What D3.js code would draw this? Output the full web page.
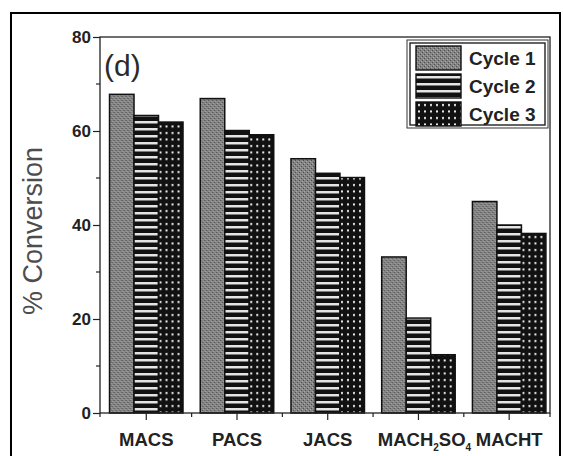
<!DOCTYPE html>
<html>
<head>
<meta charset="utf-8">
<script src="https://cdn.jsdelivr.net/npm/d3@7"></script>
<style>
  body { margin: 0; background: #fff; }
  svg { display: block; font-family: 'Liberation Sans', Arial, sans-serif; }
</style>
</head>
<body>
<script>
var categories = ['MACS', 'PACS', 'JACS', 'MACH2SO4', 'MACHT']
var series = ['Cycle 1', 'Cycle 2', 'Cycle 3']
var cycle1 = [67.8, 66.9, 54.1, 33.2, 45.0]
var cycle2 = [63.3, 60.1, 51.0, 20.2, 40.0]
var cycle3 = [61.9, 59.2, 50.1, 12.4, 38.2]
var yTicks = [0, 20, 40, 60, 80]
var yMinor = [10, 30, 50, 70]

var W = 563, H = 456
var svg = d3.select('body').append('svg').attr('width', W).attr('height', H)

// hatch patterns
var defs = svg.append('defs')
var p1 = defs.append('pattern').attr('id', 'pat1').attr('patternUnits', 'userSpaceOnUse')
  .attr('width', 4).attr('height', 4)
p1.append('rect').attr('width', 4).attr('height', 4).attr('fill', '#858585')
p1.append('rect').attr('x', 0).attr('y', 0).attr('width', 1).attr('height', 1).attr('fill', '#4e4e4e')
p1.append('rect').attr('x', 2).attr('y', 2).attr('width', 1).attr('height', 1).attr('fill', '#4e4e4e')
p1.append('rect').attr('x', 1).attr('y', 3).attr('width', 1).attr('height', 1).attr('fill', '#a8a8a8')
p1.append('rect').attr('x', 3).attr('y', 1).attr('width', 1).attr('height', 1).attr('fill', '#a8a8a8')

var p2 = defs.append('pattern').attr('id', 'pat2').attr('patternUnits', 'userSpaceOnUse')
  .attr('width', 8).attr('height', 7)
p2.append('rect').attr('width', 8).attr('height', 7).attr('fill', '#111')
p2.append('rect').attr('y', 2).attr('width', 8).attr('height', 2.5).attr('fill', '#e4e4e4')

var p3 = defs.append('pattern').attr('id', 'pat3').attr('patternUnits', 'userSpaceOnUse')
  .attr('width', 6).attr('height', 6.5)
p3.append('rect').attr('width', 6).attr('height', 6.5).attr('fill', '#111')
p3.append('rect').attr('x', 2).attr('y', 2).attr('width', 2).attr('height', 2).attr('fill', '#f2f2f2')

var fills = ['url(#pat1)', 'url(#pat2)', 'url(#pat3)']

// outer figure frame
svg.append('rect')
  .attr('x', 11).attr('y', 13).attr('width', 549).attr('height', 470)
  .style('fill', 'none').style('stroke', '#000').style('stroke-width', 2)

var pLeft = 100, pRight = 550, pTop = 37, pBottom = 413

var x = d3.scaleBand().domain(categories).range([pLeft, pRight])
  .paddingInner(0.19).paddingOuter(0.075).align(0.7)
var xs = d3.scaleBand().domain(series).range([0, x.bandwidth()])
var y = d3.scaleLinear().domain([0, 80]).range([pBottom, pTop])

var data = [cycle1, cycle2, cycle3]

var groups = svg.append('g').selectAll('g').data(categories).enter().append('g')
  .attr('transform', function(d){ return 'translate(' + x(d) + ',0)' })

groups.selectAll('rect').data(function(d, i){
    return series.map(function(s, j){ return {s: s, j: j, v: data[j][i]} })
  }).enter().append('rect')
  .attr('x', function(d){ return xs(d.s) })
  .attr('y', function(d){ return y(d.v) })
  .attr('width', xs.bandwidth())
  .attr('height', function(d){ return pBottom - y(d.v) })
  .style('fill', function(d){ return fills[d.j] })
  .style('stroke', '#111').style('stroke-width', 1.5)

// plot box
svg.append('rect').attr('x', pLeft).attr('y', pTop).attr('width', pRight - pLeft).attr('height', pBottom - pTop)
  .style('fill', 'none').style('stroke', '#222').style('stroke-width', 1.3)

// y axis
var yAxis = d3.axisLeft(y).tickValues(yTicks).tickSize(7).tickPadding(2)
var yg = svg.append('g').attr('transform', 'translate(' + pLeft + ',0)').call(yAxis)
yg.select('.domain').remove()
yg.selectAll('line').style('stroke', '#222').style('stroke-width', 1.2)
yg.selectAll('text').style('font-size', '17px').style('font-weight', 'bold').style('fill', '#222')
  .style('font-family', "'Liberation Sans', Arial, sans-serif")
svg.append('g').selectAll('line').data(yMinor).enter().append('line')
  .attr('x1', pLeft - 4).attr('x2', pLeft)
  .attr('y1', function(d){ return y(d) }).attr('y2', function(d){ return y(d) })
  .style('stroke', '#222').style('stroke-width', 1.2)

// x axis
var xAxis = d3.axisBottom(x).tickSize(7).tickFormat('')
var xg = svg.append('g').attr('transform', 'translate(0,' + pBottom + ')').call(xAxis)
xg.select('.domain').remove()
xg.selectAll('line').style('stroke', '#222').style('stroke-width', 1.2)

var step = x.step()
var minor = categories.slice(1).map(function(c){ return x(c) - (step - x.bandwidth()) / 2 })
minor = [pLeft].concat(minor).concat([pRight])
svg.append('g').selectAll('line').data(minor).enter().append('line')
  .attr('x1', function(d){ return d }).attr('x2', function(d){ return d })
  .attr('y1', pBottom).attr('y2', pBottom + 4)
  .style('stroke', '#222').style('stroke-width', 1.2)

var xl = svg.append('g').selectAll('text').data(categories).enter().append('text')
  .attr('x', function(d){ return x(d) + x.bandwidth() / 2 + (d === 'MACH2SO4' ? 6 : 0) })
  .attr('y', 446)
  .attr('text-anchor', 'middle')
  .style('font-size', '18.5px').style('font-weight', 'bold').style('fill', '#222')
xl.each(function(d){
  var t = d3.select(this)
  if (d === 'MACH2SO4') {
    t.append('tspan').text('MACH')
    t.append('tspan').text('2').attr('dy', 5).style('font-size', '10px')
    t.append('tspan').text('SO').attr('dy', -5)
    t.append('tspan').text('4').attr('dy', 5).style('font-size', '10px')
  } else {
    t.text(d)
  }
})

// y label
svg.append('text')
  .attr('transform', 'translate(42,' + ((pTop + pBottom) / 2 + 6) + ') rotate(-90)')
  .attr('text-anchor', 'middle')
  .style('font-size', '27px').style('fill', '#4d4d4d')
  .text('% Conversion')

// panel label
svg.append('text').attr('x', 104).attr('y', 76)
  .style('font-size', '30px').style('fill', '#2a2a2a')
  .text('(d)')

// legend
var lg = svg.append('g')
lg.append('rect').attr('x', 407).attr('y', 40).attr('width', 141).attr('height', 88)
  .style('fill', '#fff').style('stroke', '#333').style('stroke-width', 1)
lg.append('rect').attr('x', 410).attr('y', 43).attr('width', 135).attr('height', 82)
  .style('fill', 'none').style('stroke', '#222').style('stroke-width', 1.4)

var li = lg.selectAll('g.item').data(series).enter().append('g')
  .attr('transform', function(d, i){ return 'translate(416,' + (46 + i * 28) + ')' })
li.append('rect').attr('width', 45).attr('height', 24)
  .style('fill', function(d, i){ return fills[i] })
  .style('stroke', '#111').style('stroke-width', 1.4)
li.append('text').attr('x', 53).attr('y', 19)
  .style('font-size', '19px').style('font-weight', 'bold').style('fill', '#222')
  .text(function(d){ return d })
</script>
</body>
</html>
